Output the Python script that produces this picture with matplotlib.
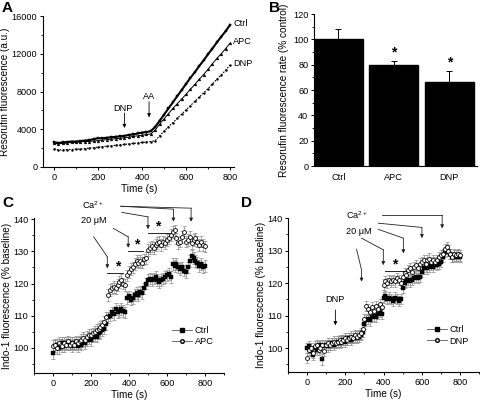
import matplotlib
matplotlib.use("Agg")
import matplotlib.pyplot as plt
from matplotlib.ticker import MultipleLocator
import numpy as np

plt.rcParams['font.family'] = ['Liberation Sans', 'DejaVu Sans']
plt.rcParams['font.size'] = 6.5
plt.rcParams['mathtext.fontset'] = 'custom'
plt.rcParams['mathtext.rm'] = 'Liberation Sans'
plt.rcParams['mathtext.it'] = 'Liberation Sans:italic'

FS = 6.6     # tick labels / annotations
LFS = 7.2    # axis labels

# ---------------- Panel A data (every 20 s) ----------------
a_time = list(range(0, 801, 20))
a_ctrl = [2600, 2550, 2600, 2650, 2700, 2700, 2750, 2800, 2850, 2950, 3050,
          3050, 3100, 3150, 3200, 3250, 3300, 3400, 3450, 3550, 3650, 3700,
          3800, 4250, 4900, 5550, 6200, 6850, 7500, 8150, 8800, 9450, 10050,
          10700, 11300, 11950, 12550, 13200, 13800, 14400, 15050]
a_apc = [2500, 2450, 2500, 2550, 2600, 2600, 2650, 2700, 2700, 2750, 2800,
         2850, 2900, 2950, 3000, 3050, 3100, 3150, 3250, 3300, 3350, 3450,
         3500, 3900, 4550, 5100, 5650, 6200, 6700, 7200, 7700, 8250, 8750,
         9300, 9800, 10350, 10950, 11500, 12000, 12550, 13100]
a_dnp = [1950, 1800, 1800, 1850, 1850, 1900, 1900, 1950, 2000, 2050, 2100,
         2150, 2200, 2250, 2300, 2350, 2400, 2450, 2500, 2550, 2600, 2650,
         2700, 2800, 3300, 3800, 4250, 4700, 5150, 5600, 6050, 6500, 6950,
         7400, 7850, 8300, 8800, 9300, 9750, 10250, 10800]
a_labels = ["Ctrl", "APC", "DNP"]

# ---------------- Panel B data ----------------
b_groups = ["Ctrl", "APC", "DNP"]
b_values = [100, 79.7, 66]
b_errors = [7.9, 3.2, 9]
b_signif = [False, True, True]

# ---------------- Panel C data (every 10 s) ----------------
c_time = list(range(0, 801, 10))
c_apc = [100.5, 101, 100, 101.5, 101, 100.5, 101.5, 101, 102, 101, 101.5,
         101, 102, 101.5, 102, 102.5, 103, 102.5, 103.5, 104, 104, 104.5,
         105, 105.5, 106, 106.5, 107, 108, 109.5, 116.5, 118, 118.5, 119,
         118.5, 119.5, 120.5, 121, 120, 119.5, 122.5, 123.5, 124.5, 125, 126,
         127, 126.5, 127, 126.5, 127.5, 128, 130.5, 131, 131.5, 131, 132,
         132.5, 133, 132, 133, 132.5, 133.5, 134, 135, 136, 136.5, 134, 132.5,
         133, 134.5, 136, 133, 133.5, 134.5, 132.5, 133.5, 134, 133, 132, 133,
         132, 131.5]
c_ctrl = [98.5, 100.5, 101, 100, 101, 101.5, 100.5, 101.5, 101, 101.5, 100.5,
          101.5, 101, 100.5, 101.5, 101, 102, 101.5, 102.5, 103, 102.5, 103.5,
          104, 103.5, 104.5, 105, 105.5, 106, 107.5, 109.5, 110, 111, 110.5,
          112, 111, 111.5, 112, 111.5, 111, 115.5, 116, 115, 115.5, 116.5, 117,
          116.5, 117.5, 117, 118.5, 120, 121, 121.5, 121, 121.5, 122, 121,
          120.5, 121, 121.5, 122, 122.5, 123, 122, 126, 125.5, 126, 125, 124.5,
          125, 124, 123.5, 125, 127, 128.5, 128, 127, 126.5, 125.5, 126, 125,
          125.5]
c_ctrl_err = 1.8
c_apc_err = 1.8

# ---------------- Panel D data (every 10 s) ----------------
d_time = list(range(0, 801, 10))
d_dnp = [97, 99.5, 100, 98.5, 100.5, 101, 99.5, 100, 101, 99, 101, 101.5,
         101, 101.5, 102, 101.5, 102, 102.5, 102, 102.5, 103, 102.5, 103,
         103.5, 103, 104, 103.5, 104, 104.5, 106, 109, 113, 112, 111, 112.5,
         111.5, 113, 112, 113.5, 112.5, 119.5, 120.5, 120, 121, 120.5, 121,
         120.5, 121.5, 121, 120, 122, 123, 122.5, 124, 124.5, 123.5, 125,
         125.5, 124.5, 126, 126.5, 127, 126, 127, 127.5, 126.5, 127, 126.5,
         127, 128, 128.5, 129, 130.5, 131, 130, 129, 128, 129, 128.5, 129,
         128.5]
d_ctrl = [100, 100.5, 99, 98, 100, 99.5, 100.5, 101, 96.5, 100.5, 101, 100.5,
          101, 101.5, 101, 101.5, 102, 101.5, 102, 102.5, 102, 102.5, 103,
          102.5, 103, 103.5, 103, 103.5, 104, 105, 107.5, 108.5, 109, 108.5,
          109.5, 110, 109.5, 110.5, 111, 110.5, 115.5, 116, 115, 115.5, 115,
          114.5, 115.5, 115, 114.5, 115, 118.5, 120, 120.5, 121, 120.5, 121,
          121.5, 122, 121.5, 122, 123.5, 124.5, 125, 124.5, 125, 125.5, 125,
          126, 125.5, 126, 126.5, 128, 129.5, 130.5, 130, 129, 128, 128.5, 128,
          128.5, 128]
d_ctrl_err = 1.6
d_dnp_err = 1.6

fig = plt.figure(figsize=(4.8, 4.0), dpi=100)


def style_axes(ax):
    ax.spines['top'].set_visible(False)
    ax.spines['right'].set_visible(False)
    for s in ('left', 'bottom'):
        ax.spines[s].set_linewidth(0.8)
    ax.tick_params(which='major', direction='out', length=2.5, width=0.7,
                   labelsize=FS, pad=1.5)
    ax.tick_params(which='minor', direction='out', length=1.3, width=0.6)


def arrow_path(ax, pts, lw=0.6, color='#222222'):
    xs = [p[0] for p in pts]
    ys = [p[1] for p in pts]
    ax.plot(xs[:-1], ys[:-1], color=color, lw=lw, clip_on=False)
    ax.annotate('', xy=pts[-1], xytext=pts[-2], annotation_clip=False,
                arrowprops=dict(arrowstyle='-|>', lw=lw, color=color,
                                mutation_scale=5, shrinkA=0, shrinkB=0))


# ================= Panel A =================
axA = fig.add_axes([0.0896, 0.5825, 0.3988, 0.3775])
axA.plot(a_time, a_ctrl, color='k', lw=1.5, marker='s', ms=1.6,
         markeredgewidth=0.3)
axA.plot(a_time, a_apc, color='k', lw=0.7, marker='^', ms=2.0,
         markeredgewidth=0.3)
axA.plot(a_time, a_dnp, color='k', lw=0.8, ls=(0, (1.5, 1.2)), marker='.',
         ms=1.5)
axA.set_xlim(-50, 820)
axA.set_ylim(0, 16000)
axA.xaxis.set_major_locator(MultipleLocator(200))
axA.xaxis.set_minor_locator(MultipleLocator(100))
axA.yaxis.set_major_locator(MultipleLocator(4000))
axA.yaxis.set_minor_locator(MultipleLocator(2000))
style_axes(axA)
axA.set_xlabel('Time (s)', fontsize=LFS, labelpad=1.5)
axA.set_ylabel('Resorufin fluorescence (a.u.)', fontsize=LFS, labelpad=1)
for lab, series in zip(a_labels, [a_ctrl, a_apc, a_dnp]):
    axA.text(a_time[-1] + 14, series[-1] + 150, lab, fontsize=FS,
             ha='left', va='center', clip_on=False)
axA.text(314, 6250, 'DNP', fontsize=FS, ha='center', va='center')
axA.annotate('', xy=(320, 4130), xytext=(320, 5720),
             arrowprops=dict(arrowstyle='-|>', lw=0.6, color='k',
                             mutation_scale=5, shrinkA=0, shrinkB=0))
axA.text(432, 7450, 'AA', fontsize=FS, ha='center', va='center')
axA.annotate('', xy=(432, 5270), xytext=(432, 6920),
             arrowprops=dict(arrowstyle='-|>', lw=0.6, color='k',
                             mutation_scale=5, shrinkA=0, shrinkB=0))

# ================= Panel B =================
axB = fig.add_axes([0.654, 0.585, 0.3396, 0.38])
xb = np.arange(len(b_groups))
axB.bar(xb, b_values, width=0.88, color='k', edgecolor='k')
axB.errorbar(xb, b_values, yerr=[np.zeros(len(b_errors)), b_errors],
             fmt='none', ecolor='k', elinewidth=0.7, capsize=2,
             capthick=0.7)
for x, v, e, s in zip(xb, b_values, b_errors, b_signif):
    if s:
        axB.text(x, v + e + 1.0, '*', fontsize=10, ha='center',
                 va='bottom', fontweight='bold')
axB.set_xlim(-0.44, 2.5)
axB.set_ylim(0, 120)
axB.set_xticks(xb)
axB.set_xticklabels(b_groups)
axB.yaxis.set_major_locator(MultipleLocator(20))
axB.yaxis.set_minor_locator(MultipleLocator(10))
style_axes(axB)
axB.tick_params(axis='x', length=0, pad=5)
axB.set_ylabel('Resorufin fluorescence rate (% control)', fontsize=LFS,
               labelpad=3)

# ================= Panel C =================
axC = fig.add_axes([0.0708, 0.0675, 0.3958, 0.3863])
axC.errorbar(c_time, c_ctrl, yerr=c_ctrl_err, fmt='none', ecolor='#8a8a8a',
             elinewidth=0.5, capsize=1.2, capthick=0.5, zorder=1)
axC.errorbar(c_time, c_apc, yerr=c_apc_err, fmt='none', ecolor='#8a8a8a',
             elinewidth=0.5, capsize=1.2, capthick=0.5, zorder=1)
axC.plot(c_time, c_ctrl, ls='none', marker='s', ms=2.6, color='k',
         markeredgewidth=0.3, zorder=3)
axC.plot(c_time, c_apc, ls='none', marker='o', ms=2.8, mfc='white',
         mec='k', markeredgewidth=0.6, zorder=4)
axC.set_xlim(-100, 900)
axC.set_ylim(92.2, 140.2)
axC.xaxis.set_major_locator(MultipleLocator(200))
axC.xaxis.set_minor_locator(MultipleLocator(100))
axC.yaxis.set_minor_locator(MultipleLocator(5))
axC.set_yticks([100, 110, 120, 130, 140])
style_axes(axC)
axC.set_xlabel('Time (s)', fontsize=LFS, labelpad=1.5)
axC.set_ylabel('Indo-1 fluorescence (% baseline)', fontsize=LFS, labelpad=1)
hC = [plt.Line2D([], [], color='#555555', lw=0.6, marker='s', ms=2.6,
                 mfc='k', mec='k'),
      plt.Line2D([], [], color='#555555', lw=0.6, marker='o', ms=2.6,
                 mfc='white', mec='k')]
axC.legend(hC, ['Ctrl', 'APC'], loc='lower right', frameon=False,
           fontsize=FS, handlelength=2.2, handletextpad=0.3,
           labelspacing=0.25, bbox_to_anchor=(0.99, 0.12))
axC.text(155, 144.3, 'Ca$^{2+}$', fontsize=FS, ha='left', va='center')
axC.text(145, 139.5, '20 \u03bcM', fontsize=FS, ha='left', va='center')
arrow_path(axC, [(214, 134.5), (286, 128.3), (286, 124.7)])
arrow_path(axC, [(318, 137.1), (396, 134.5), (396, 131.1)])
arrow_path(axC, [(362, 142.1), (500, 140.7), (500, 136.9)])
arrow_path(axC, [(357, 144.0), (634, 143.1), (634, 139.2)])
arrow_path(axC, [(357, 144.0), (727, 143.4), (727, 139.2)])
for (t0, t1, yv, ts, ys) in [(286, 371, 123.2, 339, 125.2),
                             (396, 473, 130.0, 441, 132.2),
                             (500, 610, 135.6, 553, 137.7)]:
    axC.plot([t0, t1], [yv, yv], color='k', lw=0.6, clip_on=False)
    axC.text(ts, ys, '*', fontsize=10, ha='center', va='center',
             fontweight='bold')

# ================= Panel D =================
axD = fig.add_axes([0.6, 0.069, 0.398, 0.386])
axD.errorbar(d_time, d_ctrl, yerr=d_ctrl_err, fmt='none', ecolor='#8a8a8a',
             elinewidth=0.5, capsize=1.2, capthick=0.5, zorder=1)
axD.errorbar(d_time, d_dnp, yerr=d_dnp_err, fmt='none', ecolor='#8a8a8a',
             elinewidth=0.5, capsize=1.2, capthick=0.5, zorder=1)
axD.plot(d_time, d_ctrl, ls='none', marker='s', ms=2.6, color='k',
         markeredgewidth=0.3, zorder=3)
axD.plot(d_time, d_dnp, ls='none', marker='o', ms=2.8, mfc='white',
         mec='k', markeredgewidth=0.6, zorder=4)
axD.set_xlim(-100, 900)
axD.set_ylim(92.5, 140)
axD.xaxis.set_major_locator(MultipleLocator(200))
axD.xaxis.set_minor_locator(MultipleLocator(100))
axD.yaxis.set_minor_locator(MultipleLocator(5))
axD.set_yticks([100, 110, 120, 130, 140])
style_axes(axD)
axD.set_xlabel('Time (s)', fontsize=LFS, labelpad=1.5)
axD.set_ylabel('Indo-1 fluorescence (% baseline)', fontsize=LFS, labelpad=1)
hD = [plt.Line2D([], [], color='#555555', lw=0.6, marker='s', ms=2.6,
                 mfc='k', mec='k'),
      plt.Line2D([], [], color='#555555', lw=0.6, marker='o', ms=2.6,
                 mfc='white', mec='k')]
axD.legend(hD, ['Ctrl', 'DNP'], loc='lower right', frameon=False,
           fontsize=FS, handlelength=2.2, handletextpad=0.3,
           labelspacing=0.25, bbox_to_anchor=(0.99, 0.12))
axD.text(206, 140.9, 'Ca$^{2+}$', fontsize=FS, ha='left', va='center',
         clip_on=False)
axD.text(206, 135.8, '20 \u03bcM', fontsize=FS, ha='left', va='center')
arrow_path(axD, [(390, 140.9), (707, 140.9), (707, 136.8)])
arrow_path(axD, [(373, 138.4), (601, 137.1), (601, 133.8)])
arrow_path(axD, [(373, 136.5), (504, 133.8), (504, 129.1)])
arrow_path(axD, [(285, 133.8), (399, 130.2), (399, 125.5)])
arrow_path(axD, [(259, 130.4), (285, 124.0), (285, 120.4)])
axD.plot([408, 522], [123.8, 123.8], color='k', lw=0.6)
axD.text(461, 125.8, '*', fontsize=10, ha='center', va='center',
         fontweight='bold')
axD.text(144, 114.8, 'DNP', fontsize=FS, ha='center', va='center')
axD.annotate('', xy=(148, 107), xytext=(148, 111.7),
             arrowprops=dict(arrowstyle='-|>', lw=0.6, color='k',
                             mutation_scale=5, shrinkA=0, shrinkB=0))

# panel letters
for lab, x, y in [('A', 0.004, 0.998), ('B', 0.56, 0.998),
                  ('C', 0.004, 0.51), ('D', 0.502, 0.51)]:
    fig.text(x, y, lab, fontsize=11, fontweight='bold', ha='left', va='top')

fig.savefig('out.png', dpi=100)
